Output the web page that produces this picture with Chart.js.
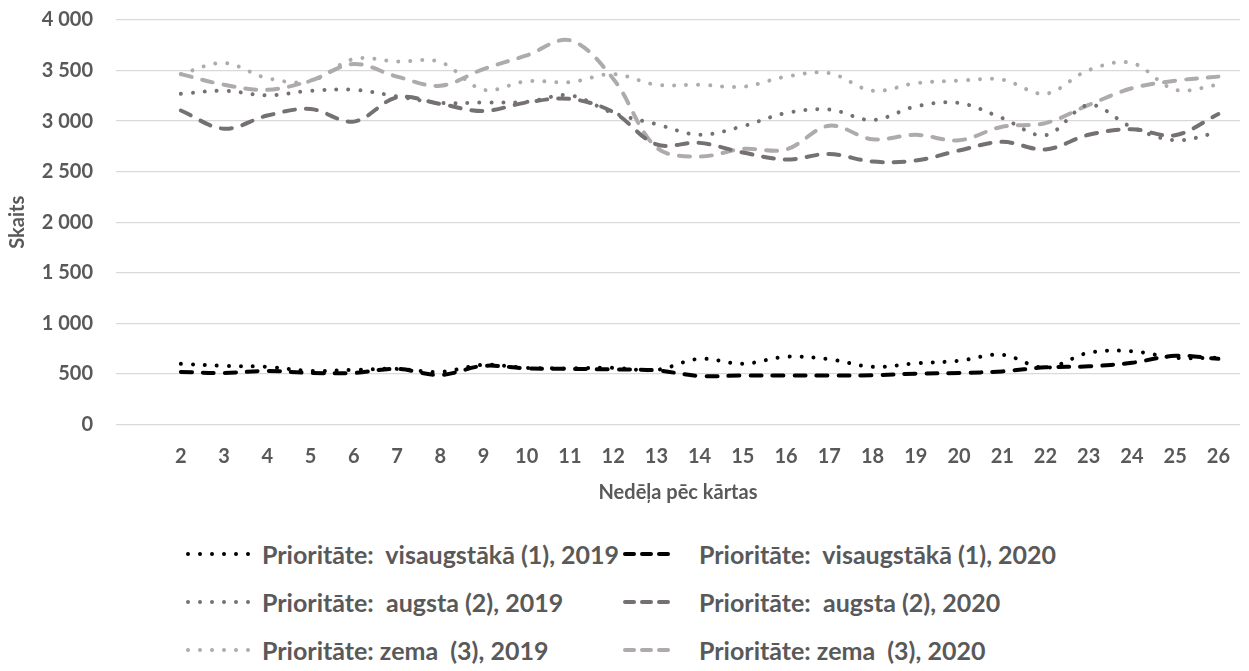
<!DOCTYPE html>
<html lang="lv">
<head>
<meta charset="utf-8">
<title>Izsaukumi pēc prioritātes</title>
<script src="https://cdn.jsdelivr.net/npm/chart.js@4.4.1/dist/chart.umd.min.js"></script>
<style>
  html, body { margin: 0; padding: 0; background: #fff; overflow: hidden; }
  #wrap { position: relative; width: 1249px; height: 671px; overflow: hidden; font-family: Lato, "Open Sans", sans-serif; }
  /* canvas starts above the page so the top gridline lands near the top edge */
  #chartBox { position: absolute; left: 0; top: -15px; width: 1249px; height: 545px; }
  #legend { position: absolute; left: 184px; top: 530px; display: grid; grid-template-columns: 437px auto; }
  .item { display: flex; align-items: center; height: 48px; font-weight: 700; font-size: 25px; color: #595959; white-space: pre; }
  .item svg { margin-right: 6px; flex: none; }
</style>
</head>
<body>
<div id="wrap">
  <div id="chartBox"><canvas id="weekChart"></canvas></div>
  <div id="legend"></div>
</div>
<script>
// week numbers on the x axis
const weeks = ["2", "3", "4", "5", "6", "7", "8", "9", "10", "11", "12", "13", "14",
  "15", "16", "17", "18", "19", "20", "21", "22", "23", "24", "25", "26"];

// calls per week, by priority and year
const visaugsta2019 = [600, 580, 570, 530, 540, 550, 520, 590, 560, 555, 560, 540, 650,
  600, 670, 645, 570, 605, 630, 690, 560, 710, 725, 660, 660];
const visaugsta2020 = [520, 510, 530, 510, 510, 550, 490, 580, 555, 550, 545, 535, 480,
  485, 485, 485, 487, 503, 510, 525, 565, 575, 610, 680, 650];
const augsta2019 = [3270, 3300, 3255, 3300, 3310, 3245, 3180, 3185, 3190, 3255, 3080, 2970, 2865,
  2950, 3080, 3115, 3010, 3145, 3180, 3030, 2860, 3160, 2940, 2810, 2890];
const augsta2020 = [3105, 2925, 3055, 3120, 2995, 3235, 3170, 3100, 3185, 3220, 3090, 2770, 2785,
  2690, 2620, 2675, 2600, 2610, 2710, 2795, 2720, 2865, 2920, 2860, 3070];
const zema2019 = [3465, 3575, 3425, 3395, 3615, 3590, 3585, 3310, 3395, 3385, 3465, 3360, 3360,
  3340, 3440, 3475, 3300, 3375, 3400, 3410, 3270, 3505, 3575, 3310, 3360];
const zema2020 = [3465, 3360, 3310, 3400, 3565, 3440, 3350, 3515, 3650, 3800, 3420, 2740, 2650,
  2725, 2720, 2955, 2820, 2865, 2810, 2945, 2980, 3160, 3325, 3400, 3440];

const yTicks = [0, 500, 1000, 1500, 2000, 2500, 3000, 3500, 4000];

const BLACK = "#000000";
const DARK = "#767171";
const LIGHT = "#afabab";
const DOTS = [0.01, 12];
const DASHES = [11, 11];

// axis starts one empty slot before week 2
const labels = [""].concat(weeks);

function series(label, values, color, dash) {
  return {
    label,
    data: [null].concat(values),
    borderColor: color,
    backgroundColor: color,
    borderWidth: 4,
    borderDash: dash,
    borderCapStyle: "round",
    borderJoinStyle: "round",
    pointRadius: 0,
    tension: 0.35,
    fill: false
  };
}

const datasets = [
  series("Prioritāte:  visaugstākā (1), 2019", visaugsta2019, BLACK, DOTS),
  series("Prioritāte:  visaugstākā (1), 2020", visaugsta2020, BLACK, DASHES),
  series("Prioritāte:  augsta (2), 2019", augsta2019, DARK, DOTS),
  series("Prioritāte:  augsta (2), 2020", augsta2020, DARK, DASHES),
  series("Prioritāte: zema  (3), 2019", zema2019, LIGHT, DOTS),
  series("Prioritāte: zema  (3), 2020", zema2020, LIGHT, DASHES)
];

const axisFont = { family: "Lato", size: 20, weight: "bold" };
const titleFont = { family: "Lato", size: 20, weight: "bold" };

new Chart(document.getElementById("weekChart"), {
  type: "line",
  data: { labels, datasets },
  options: {
    responsive: true,
    maintainAspectRatio: false,
    animation: false,
    layout: { padding: { top: 0, right: 9, bottom: 0, left: 0 } },
    plugins: {
      legend: { display: false },
      tooltip: { enabled: false }
    },
    scales: {
      x: {
        offset: true,
        grid: { display: false },
        border: { display: false },
        ticks: { color: "#595959", font: axisFont, padding: 12, maxRotation: 0, autoSkip: false },
        title: {
          display: true,
          text: "Nedēļa pēc kārtas",
          color: "#595959",
          font: titleFont,
          padding: { top: 0, bottom: 25 }
        },
        afterFit: scale => { scale.height = 105.5; }
      },
      y: {
        min: 0,
        max: 4000,
        afterBuildTicks: scale => { scale.ticks = yTicks.map(v => ({ value: v })); },
        grid: { color: "#d9d9d9", lineWidth: 1.3, drawTicks: false },
        border: { display: false },
        ticks: {
          color: "#595959",
          font: axisFont,
          padding: 23,
          callback: v => String(v).replace(/\B(?=(\d{3})+(?!\d))/g, " ")
        },
        title: {
          display: true,
          text: "Skaits",
          color: "#595959",
          font: titleFont,
          padding: { top: 6, bottom: 0 }
        },
        afterFit: scale => { scale.width = 116; }
      }
    }
  }
});

// legend below the chart, two columns, samples drawn with the line dash of each series
const legendBox = document.getElementById("legend");
datasets.forEach(ds => {
  const item = document.createElement("div");
  item.className = "item";
  const dotted = ds.borderDash === DOTS;
  const line = dotted
    ? `<line x1="4" y1="6" x2="68" y2="6" stroke-dasharray="0 12"`
    : `<line x1="4" y1="6" x2="47" y2="6" stroke-dasharray="9 8"`;
  item.innerHTML =
    `<svg width="72" height="12">${line} stroke="${ds.borderColor}" ` +
    `stroke-width="4" stroke-linecap="round"/></svg>`;
  const span = document.createElement("span");
  span.textContent = ds.label;
  item.appendChild(span);
  legendBox.appendChild(item);
});
</script>
</body>
</html>
